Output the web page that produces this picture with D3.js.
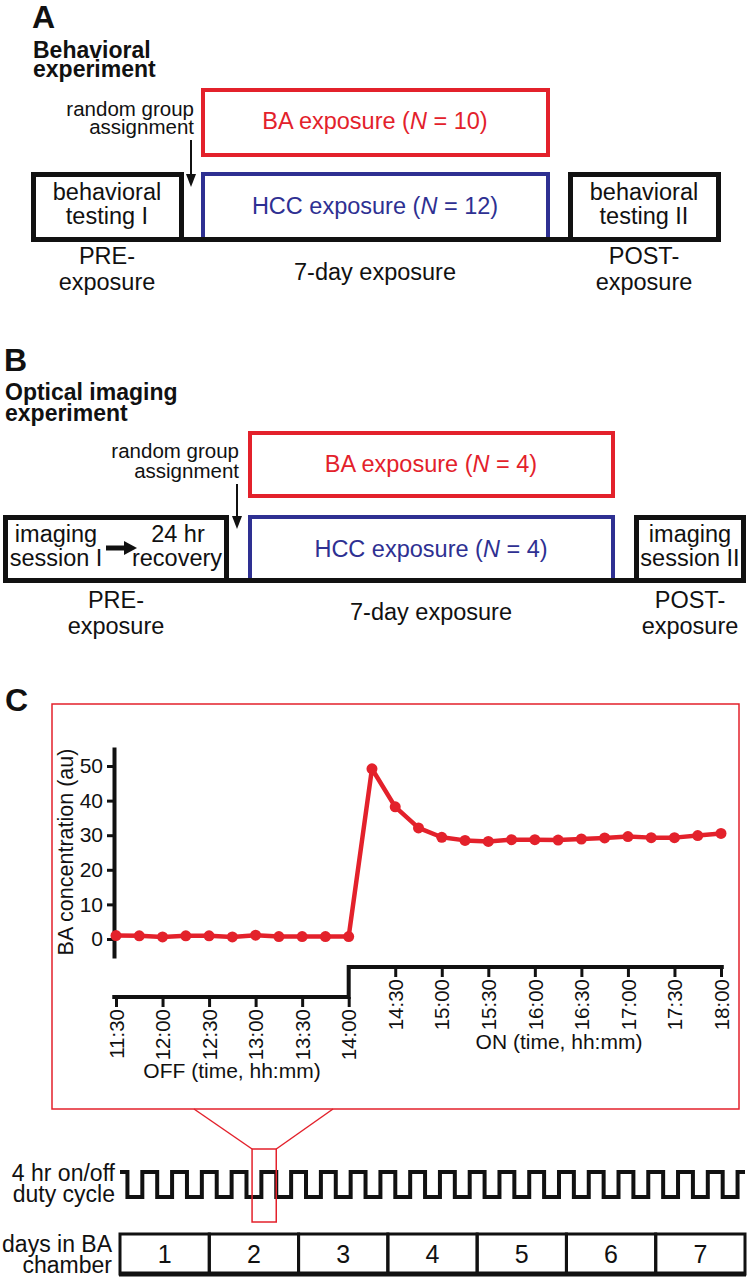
<!DOCTYPE html>
<html><head><meta charset="utf-8">
<script src="https://cdn.jsdelivr.net/npm/d3@7"></script>
<style>body{margin:0;background:#fff}svg{display:block}text{font-family:'Liberation Sans',Arial,Helvetica,sans-serif}</style>
</head><body><svg id="c" width="749" height="1280"></svg>
<script>
// ---------- data (panel C) ----------
const offTimes = ["11:30","11:45","12:00","12:15","12:30","12:45","13:00","13:15","13:30","13:45","14:00"];
const offValues = [1.0,0.9,0.6,0.9,0.9,0.6,1.1,0.7,0.7,0.7,0.7];
const onTimes = ["14:15","14:30","14:45","15:00","15:15","15:30","15:45","16:00","16:15","16:30","16:45","17:00","17:15","17:30","17:45","18:00"];
const onValues = [49.2,38.2,32.1,29.4,28.5,28.2,28.7,28.7,28.6,28.9,29.2,29.6,29.3,29.3,29.9,30.5];
const offTicks = ["11:30","12:00","12:30","13:00","13:30","14:00"];
const onTicks = ["14:30","15:00","15:30","16:00","16:30","17:00","17:30","18:00"];
const yTicks = [0,10,20,30,40,50];
const days = ["1","2","3","4","5","6","7"];
// duty cycle edges (hours from start of day 1); first segment is ON, then alternating
const dutyEdges = [0,2,6,10,14,18,22,26,30,34,38,42,46,50,54,58,62,66,70,74,78,82,86,90,94,98,102,106,110,114,118,122,126,130,134,138,142,146,150,154,158,162,166,168];
const zoomWindow = [35.5, 42]; // day 2, 11:30 - 18:00

const RED = '#e3212b', BLUE = '#2e3092', BLK = '#111';
const svg = d3.select('#c');

function label(g, x, y, s, o = {}) {
  const t = g.append('text').attr('x', x).attr('y', y)
    .attr('text-anchor', o.anchor || 'middle')
    .attr('font-size', o.size || 23.5)
    .attr('font-weight', o.weight || 'normal')
    .attr('fill', o.fill || BLK);
  s.split('*').forEach((part, i) => { if (part) t.append('tspan').attr('font-style', i % 2 ? 'italic' : 'normal').text(part); });
  return t;
}
function box(g, x0, y0, x1, y1, color, w) {
  g.append('rect').attr('x', x0 + w / 2).attr('y', y0 + w / 2)
    .attr('width', x1 - x0 - w).attr('height', y1 - y0 - w)
    .attr('fill', 'none').attr('stroke', color).attr('stroke-width', w);
}
function arrowDown(g, x, y0, y1) {
  g.append('line').attr('x1', x).attr('x2', x).attr('y1', y0).attr('y2', y1 - 8)
    .attr('stroke', BLK).attr('stroke-width', 2);
  g.append('path').attr('d', `M${x - 5},${y1 - 13}L${x + 5},${y1 - 13}L${x},${y1}Z`).attr('fill', BLK);
}

// ---------- Panel A ----------
const A = svg.append('g');
label(A, 32, 28, 'A', {anchor: 'start', size: 32, weight: 'bold'});
label(A, 33, 58, 'Behavioral', {anchor: 'start', size: 23, weight: 'bold'});
label(A, 33, 77, 'experiment', {anchor: 'start', size: 23, weight: 'bold'});
box(A, 201, 88, 550, 157, RED, 4);
box(A, 201, 172, 550, 242, BLUE, 4);
box(A, 31, 172, 184, 242, BLK, 5);
box(A, 568, 172, 721, 242, BLK, 5);
A.append('line').attr('x1', 31).attr('x2', 721).attr('y1', 239.5).attr('y2', 239.5).attr('stroke', BLK).attr('stroke-width', 5);
label(A, 194, 116, 'random group', {anchor: 'end', size: 20.5});
label(A, 194, 134, 'assignment', {anchor: 'end', size: 20.5});
arrowDown(A, 191, 140, 187);
label(A, 375, 129, 'BA exposure (*N* = 10)', {fill: RED});
label(A, 375, 214, 'HCC exposure (*N* = 12)', {fill: BLUE});
label(A, 107, 200, 'behavioral');
label(A, 107, 224, 'testing I');
label(A, 644, 200, 'behavioral');
label(A, 644, 224, 'testing II');
label(A, 107, 264, 'PRE-');
label(A, 107, 290, 'exposure');
label(A, 375, 280, '7-day exposure');
label(A, 644, 264, 'POST-');
label(A, 644, 290, 'exposure');

// ---------- Panel B ----------
const B = svg.append('g');
label(B, 4, 371, 'B', {anchor: 'start', size: 32, weight: 'bold'});
label(B, 5, 400, 'Optical imaging', {anchor: 'start', size: 23, weight: 'bold'});
label(B, 5, 421, 'experiment', {anchor: 'start', size: 23, weight: 'bold'});
box(B, 248, 431, 615, 498, RED, 4);
box(B, 248, 515, 615, 583, BLUE, 4);
box(B, 3, 515, 229, 583, BLK, 5);
box(B, 634, 515, 746, 583, BLK, 5);
B.append('line').attr('x1', 3).attr('x2', 746).attr('y1', 580.5).attr('y2', 580.5).attr('stroke', BLK).attr('stroke-width', 5);
label(B, 239, 458, 'random group', {anchor: 'end', size: 20.5});
label(B, 239, 478, 'assignment', {anchor: 'end', size: 20.5});
arrowDown(B, 237, 484, 529);
label(B, 431, 472, 'BA exposure (*N* = 4)', {fill: RED});
label(B, 431, 557, 'HCC exposure (*N* = 4)', {fill: BLUE});
label(B, 56, 542, 'imaging');
label(B, 56, 566, 'session I');
label(B, 178, 542, '24 hr');
label(B, 177, 566, 'recovery');
B.append('line').attr('x1', 106).attr('x2', 126).attr('y1', 548).attr('y2', 548).attr('stroke', BLK).attr('stroke-width', 5);
B.append('path').attr('d', 'M124,541L137,548L124,555Z').attr('fill', BLK);
label(B, 690, 542, 'imaging');
label(B, 690, 566, 'session II');
label(B, 116, 608, 'PRE-');
label(B, 116, 634, 'exposure');
label(B, 431, 620, '7-day exposure');
label(B, 690, 608, 'POST-');
label(B, 690, 634, 'exposure');

// ---------- Panel C ----------
const C = svg.append('g');
label(C, 5, 711, 'C', {anchor: 'start', size: 32, weight: 'bold'});
C.append('rect').attr('x', 52).attr('y', 704).attr('width', 687).attr('height', 405)
  .attr('fill', 'none').attr('stroke', RED).attr('stroke-width', 1.5);

const toH = s => { const [h, m] = s.split(':').map(Number); return h + m / 60; };
const x = d3.scaleLinear().domain([11.5, 18]).range([116, 721]);
const y = d3.scaleLinear().domain([-5.5, 55.5]).range([958, 747]);
const yAxisX = 114, yOff = 997, yOn = 967;

// y axis
const ya = C.append('g').attr('transform', `translate(${yAxisX},0)`)
  .call(d3.axisLeft(y).tickValues(yTicks).tickSize(7).tickSizeOuter(0).tickPadding(4));
ya.select('.domain').attr('stroke', BLK).attr('stroke-width', 4);
ya.selectAll('.tick line').attr('stroke', BLK).attr('stroke-width', 3);
ya.selectAll('.tick text').attr('font-size', 21).attr('fill', BLK).attr('font-family', null);
C.append('text').attr('transform', `translate(73,852) rotate(-90)`).attr('text-anchor', 'middle')
  .attr('font-size', 21.5).attr('fill', BLK).text('BA concentration (au)');

// stepped x axes (OFF / ON)
const stepLine = d3.line().x(d => x(d[0])).y(d => d[1]);
C.append('path').attr('d', stepLine([[11.5 - 0.04, yOff], [14, yOff], [14, yOn], [18 + 0.03, yOn]]))
  .attr('fill', 'none').attr('stroke', BLK).attr('stroke-width', 4);
function xAxis(ticks, yPos) {
  const ax = C.append('g').attr('transform', `translate(0,${yPos})`)
    .call(d3.axisBottom(x).tickValues(ticks.map(toH)).tickSize(10).tickSizeOuter(0)
      .tickFormat((d, i) => ticks[i]));
  ax.select('.domain').remove();
  ax.selectAll('.tick line').attr('stroke', BLK).attr('stroke-width', 3);
  ax.selectAll('.tick text').attr('font-size', 20.5).attr('fill', BLK).attr('font-family', null)
    .attr('transform', 'rotate(-90)').attr('text-anchor', 'end')
    .attr('x', -12).attr('y', 0).attr('dy', '0.35em');
}
xAxis(offTicks, yOff);
xAxis(onTicks, yOn);
label(C, 232, 1078, 'OFF (time, hh:mm)', {size: 21});
label(C, 559, 1049, 'ON (time, hh:mm)', {size: 21});

// data line
const pts = offTimes.map((t, i) => [toH(t), offValues[i]]).concat(onTimes.map((t, i) => [toH(t), onValues[i]]));
C.append('path').attr('d', d3.line().x(d => x(d[0])).y(d => y(d[1]))(pts))
  .attr('fill', 'none').attr('stroke', RED).attr('stroke-width', 4.5).attr('stroke-linejoin', 'round');
C.selectAll('circle.pt').data(pts).join('circle').attr('class', 'pt')
  .attr('cx', d => x(d[0])).attr('cy', d => y(d[1])).attr('r', 5.5).attr('fill', RED);

// ---------- duty cycle & days ----------
const D = svg.append('g');
const xt = d3.scaleLinear().domain([0, 168]).range([120, 745]);
const yHigh = 1172, yLow = 1197;
label(D, 115, 1181, '4 hr on/off', {anchor: 'end', size: 23});
label(D, 115, 1202, 'duty cycle', {anchor: 'end', size: 23});
const wave = dutyEdges.slice(0, -1).map((t, i) => ({t, on: i % 2 === 0}));
wave.push({t: dutyEdges[dutyEdges.length - 1], on: wave[wave.length - 1].on});
D.append('path').attr('d', d3.line().curve(d3.curveStepAfter).x(d => xt(d.t)).y(d => d.on ? yHigh : yLow)(wave))
  .attr('fill', 'none').attr('stroke', BLK).attr('stroke-width', 4).attr('stroke-linejoin', 'miter');

// zoom indicator
const zx0 = xt(zoomWindow[0]), zx1 = xt(zoomWindow[1]);
D.append('rect').attr('x', zx0).attr('y', 1149).attr('width', zx1 - zx0).attr('height', 73)
  .attr('fill', 'none').attr('stroke', RED).attr('stroke-width', 1.5);
D.append('line').attr('x1', zx0).attr('y1', 1149).attr('x2', 194).attr('y2', 1109).attr('stroke', RED).attr('stroke-width', 1.5);
D.append('line').attr('x1', zx1).attr('y1', 1149).attr('x2', 333).attr('y2', 1109).attr('stroke', RED).attr('stroke-width', 1.5);

// days
const xd = d3.scaleBand().domain(days).range([120, 745]).padding(0);
label(D, 112, 1252, 'days in BA', {anchor: 'end', size: 23});
label(D, 112, 1273, 'chamber', {anchor: 'end', size: 23});
D.selectAll('rect.day').data(days).join('rect').attr('class', 'day')
  .attr('x', d => xd(d)).attr('y', 1234).attr('width', xd.bandwidth()).attr('height', 40)
  .attr('fill', 'none').attr('stroke', BLK).attr('stroke-width', 3);
D.append('line').attr('x1', 119).attr('x2', 746).attr('y1', 1274).attr('y2', 1274).attr('stroke', BLK).attr('stroke-width', 5);
D.selectAll('text.day').data(days).join('text').attr('class', 'day')
  .attr('x', d => xd(d) + xd.bandwidth() / 2).attr('y', 1263).attr('text-anchor', 'middle')
  .attr('font-size', 25).attr('fill', BLK).text(d => d);
</script></body></html>
